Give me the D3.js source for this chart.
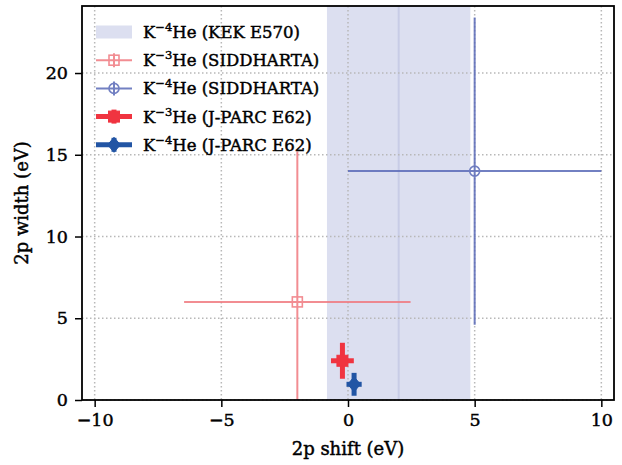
<!DOCTYPE html>
<html>
<head>
<meta charset="utf-8">
<script src="https://cdn.jsdelivr.net/npm/d3@7"></script>
<style>
  body { margin: 0; background: #fff; }
  text { font-family: "DejaVu Serif", serif; fill: #000; stroke: #000; stroke-width: 0.45px; }
</style>
</head>
<body>
<div id="chart"></div>
<script>
const w = 622
const h = 465
const m = { left: 82, right: 8, top: 6, bottom: 65 }

// KEK E570 band (shift centre and range)
const kekShift = 2.0
const kekRange = [-0.83, 4.83]

// SIDDHARTA points: shift, width, shift error, width error
const siddharta = [
    { name: "3", x: -2, y: 6, ex: 4.47, ey: 9.2, color: "#f07a80", marker: "square" },
    { name: "4", x: 5, y: 14, ex: 5, ey: 9.4, color: "#5a6ab8", marker: "circle" }
]

// J-PARC E62 points
const jparc = [
    { name: "3", x: -0.22, y: 2.4, ex: 0.45, ey: 1.1, color: "#f03440", marker: "square" },
    { name: "4", x: 0.24, y: 0.96, ex: 0.3, ey: 0.7, color: "#2255a4", marker: "diamond" }
]

const xTicks = [-10, -5, 0, 5, 10]
const yTicks = [0, 5, 10, 15, 20]

var svg = d3.select("#chart").append("svg")
    .attr("width", w).attr("height", h)

var x = d3.scaleLinear().domain([-10.5, 10.5]).range([m.left, w - m.right])
var y = d3.scaleLinear().domain([0, 24.1]).range([h - m.bottom, m.top])

var plot = svg.append("g")

// KEK band
plot.append("rect")
    .attr("x", x(kekRange[0])).attr("width", x(kekRange[1]) - x(kekRange[0]))
    .attr("y", m.top).attr("height", y(0) - m.top)
    .attr("fill", "#dcdff0")
plot.append("line")
    .attr("x1", x(kekShift)).attr("x2", x(kekShift))
    .attr("y1", m.top).attr("y2", y(0))
    .attr("stroke", "#c8cce6").attr("stroke-width", 2)

// grid
plot.selectAll(".gx").data(xTicks).enter().append("line")
    .attr("x1", d => x(d)).attr("x2", d => x(d))
    .attr("y1", m.top).attr("y2", y(0))
    .attr("stroke", "#b8b8b8").attr("stroke-width", 1.5).attr("stroke-dasharray", "1.5,2.5")
plot.selectAll(".gy").data(yTicks).enter().append("line")
    .attr("y1", d => y(d)).attr("y2", d => y(d))
    .attr("x1", m.left).attr("x2", w - m.right)
    .attr("stroke", "#b8b8b8").attr("stroke-width", 1.5).attr("stroke-dasharray", "1.5,2.5")

var clip = svg.append("clipPath").attr("id", "clip").append("rect")
    .attr("x", m.left).attr("y", m.top).attr("width", w - m.left - m.right).attr("height", y(0) - m.top)

var marks = svg.append("g").attr("clip-path", "url(#clip)")

function marker(g, type, cx, cy, size, color, filled, sw) {
    if (type == "square") {
        g.append("rect").attr("x", cx - size / 2).attr("y", cy - size / 2)
            .attr("width", size).attr("height", size)
            .attr("fill", filled ? color : "none").attr("stroke", color).attr("stroke-width", sw)
    } else if (type == "circle") {
        g.append("circle").attr("cx", cx).attr("cy", cy).attr("r", size / 2)
            .attr("fill", filled ? color : "none").attr("stroke", color).attr("stroke-width", sw)
    } else {
        var s = size / 2
        g.append("path").attr("d", `M${cx},${cy - s}L${cx + s * 0.85},${cy}L${cx},${cy + s}L${cx - s * 0.85},${cy}Z`)
            .attr("fill", color).attr("stroke", color).attr("stroke-width", sw)
    }
}

function errbar(g, d, lw, opacity) {
    var grp = g.append("g").attr("opacity", opacity)
    grp.append("line")
        .attr("x1", x(d.x - d.ex)).attr("x2", x(d.x + d.ex))
        .attr("y1", y(d.y)).attr("y2", y(d.y))
        .attr("stroke", d.color).attr("stroke-width", lw)
    grp.append("line")
        .attr("x1", x(d.x)).attr("x2", x(d.x))
        .attr("y1", y(d.y - d.ey)).attr("y2", y(d.y + d.ey))
        .attr("stroke", d.color).attr("stroke-width", lw)
    return grp
}

siddharta.forEach(function(d) {
    var g = errbar(marks, d, 2, 0.85)
    marker(g, d.marker, x(d.x), y(d.y), 10, d.color, false, 1.6)
})
jparc.forEach(function(d) {
    var g = errbar(marks, d, 5, 1)
    marker(g, d.marker, x(d.x), y(d.y), d.marker == "diamond" ? 15 : 11, d.color, true, 1)
})

// axes
var xAxis = svg.append("g").attr("transform", `translate(0,${y(0)})`)
    .call(d3.axisBottom(x).tickValues(xTicks).tickSize(7).tickPadding(7).tickFormat(d => d < 0 ? "\u2212" + Math.abs(d) : d))
var yAxis = svg.append("g").attr("transform", `translate(${m.left},0)`)
    .call(d3.axisLeft(y).tickValues(yTicks).tickSize(7).tickPadding(7))
;[xAxis, yAxis].forEach(function(a) {
    a.select(".domain").remove()
    a.selectAll(".tick line").attr("stroke", "#000").attr("stroke-width", 1.5)
    a.selectAll(".tick text").attr("font-size", 17.5).attr("font-family", "DejaVu Serif").attr("fill", "#000")
})

svg.append("rect")
    .attr("x", m.left).attr("y", m.top)
    .attr("width", w - m.left - m.right).attr("height", y(0) - m.top)
    .attr("fill", "none").attr("stroke", "#000").attr("stroke-width", 1.8)

svg.append("text").attr("x", (m.left + w - m.right) / 2).attr("y", 455)
    .attr("text-anchor", "middle").attr("font-size", 18).text("2p shift (eV)")
svg.append("text")
    .attr("transform", `translate(28,${(m.top + y(0)) / 2}) rotate(-90)`)
    .attr("text-anchor", "middle").attr("font-size", 18).text("2p width (eV)")

// legend
const legendItems = [
    { iso: "4", label: "He (KEK E570)", kind: "band" },
    { iso: "3", label: "He (SIDDHARTA)", kind: "sid", d: siddharta[0] },
    { iso: "4", label: "He (SIDDHARTA)", kind: "sid", d: siddharta[1] },
    { iso: "3", label: "He (J-PARC E62)", kind: "jp", d: jparc[0] },
    { iso: "4", label: "He (J-PARC E62)", kind: "jp", d: jparc[1] }
]
var leg = svg.append("g")
legendItems.forEach(function(it, i) {
    var cy = 32 + i * 28.2
    var x0 = 96, x1 = 132, xc = 114
    if (it.kind == "band") {
        leg.append("rect").attr("x", x0).attr("y", cy - 6.5).attr("width", x1 - x0).attr("height", 13).attr("fill", "#dcdff0")
    } else {
        var lw = it.kind == "sid" ? 2 : 5
        var g = leg.append("g").attr("opacity", it.kind == "sid" ? 0.85 : 1)
        g.append("line").attr("x1", x0).attr("x2", x1).attr("y1", cy).attr("y2", cy)
            .attr("stroke", it.d.color).attr("stroke-width", lw)
        g.append("line").attr("x1", xc).attr("x2", xc).attr("y1", cy - 7).attr("y2", cy + 7)
            .attr("stroke", it.d.color).attr("stroke-width", lw)
        if (it.kind == "sid") marker(g, it.d.marker, xc, cy, 10, it.d.color, false, 1.6)
        else marker(g, it.d.marker, xc, cy, it.d.marker == "diamond" ? 15 : 11, it.d.color, true, 1)
    }
    var t = leg.append("text").attr("x", 143).attr("y", cy + 6).attr("font-size", 16.5)
    t.append("tspan").text("K")
    t.append("tspan").attr("dy", -7).attr("font-size", 11.5).text("\u2212" + it.iso)
    t.append("tspan").attr("dy", 7).text(it.label)
})
</script>
</body>
</html>
